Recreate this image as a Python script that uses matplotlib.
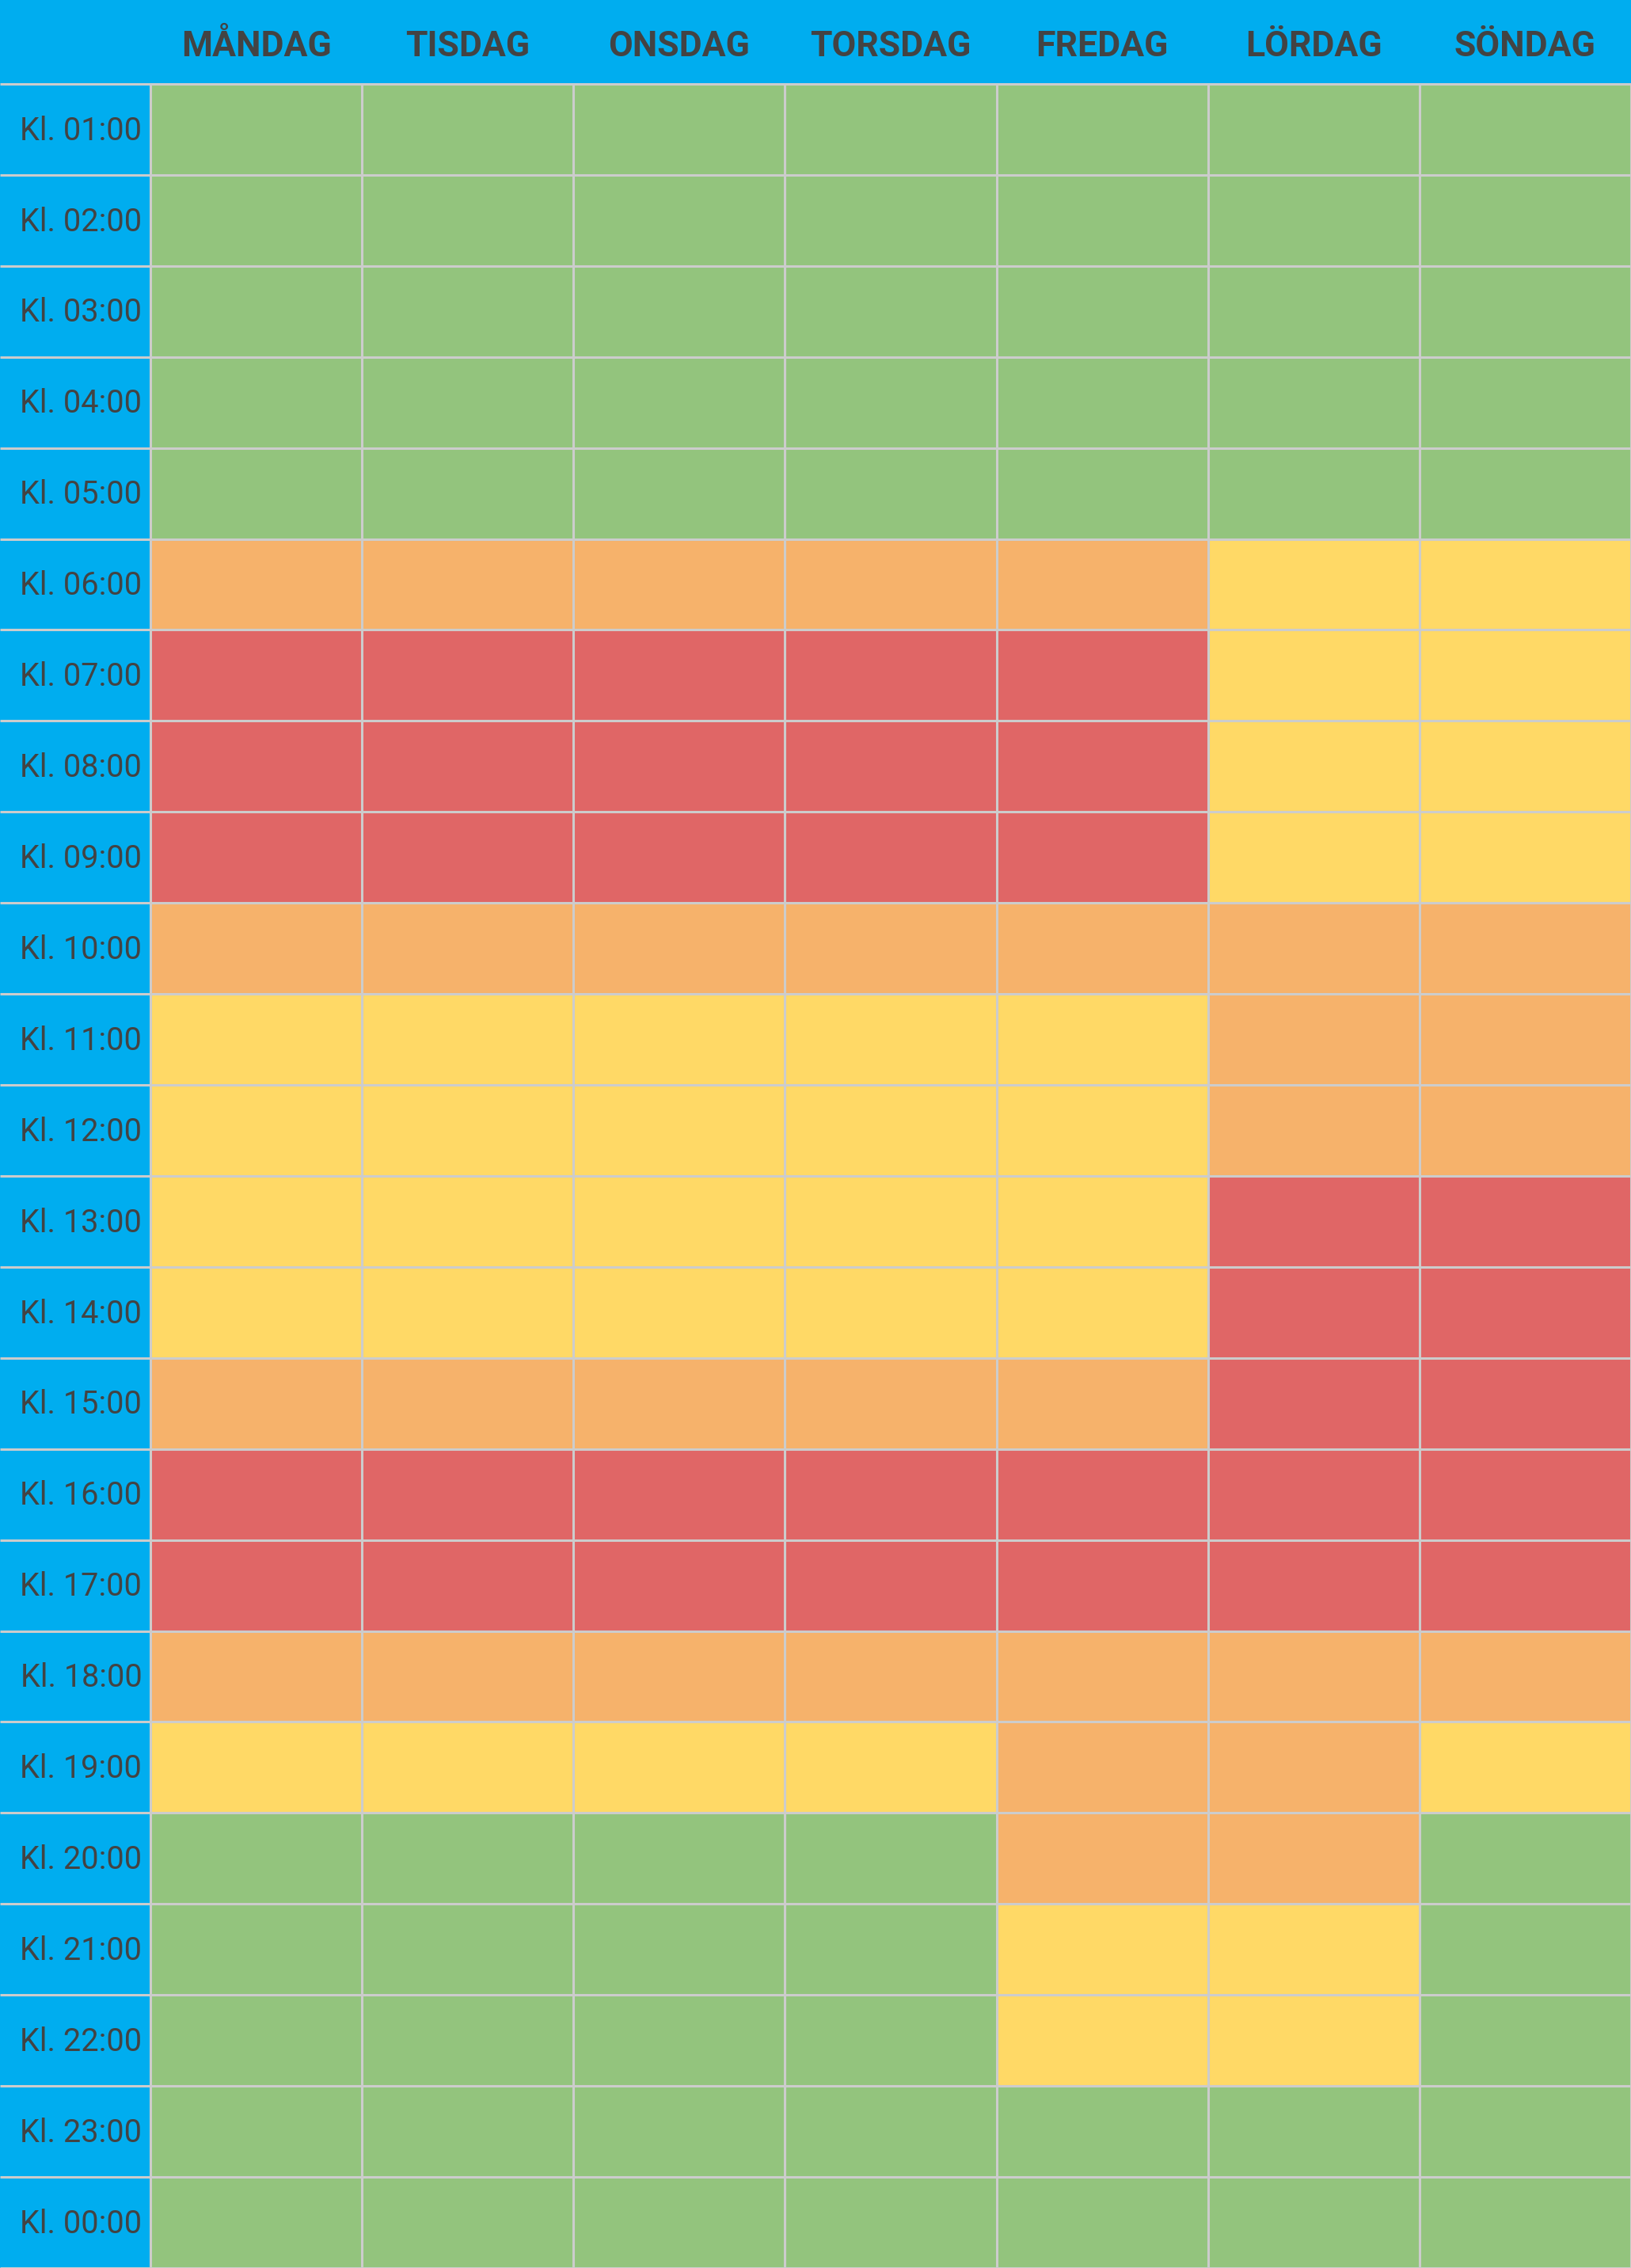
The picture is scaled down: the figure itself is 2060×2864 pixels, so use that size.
"""Weekly traffic heat table: hour rows by weekday columns, four load levels."""

import matplotlib

matplotlib.use("Agg")
import matplotlib.pyplot as plt
import numpy as np
from matplotlib.colors import ListedColormap
from matplotlib.patches import Rectangle

days = ["MÅNDAG", "TISDAG", "ONSDAG", "TORSDAG", "FREDAG", "LÖRDAG", "SÖNDAG"]
hours = [f"Kl. {h:02d}:00" for h in list(range(1, 24)) + [0]]

# 0 = green (calm), 1 = yellow, 2 = orange, 3 = red (busiest)
levels = [
    [0, 0, 0, 0, 0, 0, 0],  # 01
    [0, 0, 0, 0, 0, 0, 0],  # 02
    [0, 0, 0, 0, 0, 0, 0],  # 03
    [0, 0, 0, 0, 0, 0, 0],  # 04
    [0, 0, 0, 0, 0, 0, 0],  # 05
    [2, 2, 2, 2, 2, 1, 1],  # 06
    [3, 3, 3, 3, 3, 1, 1],  # 07
    [3, 3, 3, 3, 3, 1, 1],  # 08
    [3, 3, 3, 3, 3, 1, 1],  # 09
    [2, 2, 2, 2, 2, 2, 2],  # 10
    [1, 1, 1, 1, 1, 2, 2],  # 11
    [1, 1, 1, 1, 1, 2, 2],  # 12
    [1, 1, 1, 1, 1, 3, 3],  # 13
    [1, 1, 1, 1, 1, 3, 3],  # 14
    [2, 2, 2, 2, 2, 3, 3],  # 15
    [3, 3, 3, 3, 3, 3, 3],  # 16
    [3, 3, 3, 3, 3, 3, 3],  # 17
    [2, 2, 2, 2, 2, 2, 2],  # 18
    [1, 1, 1, 1, 2, 2, 1],  # 19
    [0, 0, 0, 0, 2, 2, 0],  # 20
    [0, 0, 0, 0, 1, 1, 0],  # 21
    [0, 0, 0, 0, 1, 1, 0],  # 22
    [0, 0, 0, 0, 0, 0, 0],  # 23
    [0, 0, 0, 0, 0, 0, 0],  # 00
]
level_colors = ["#93c47d", "#ffd966", "#f6b26b", "#e06666"]

BLUE = "#00adef"
TEXT = "#434343"
GRID = "#cccccc"

W_PX, H_PX = 2060, 2864
LABEL_W = 0.711   # label column width, in day-column units
HEADER_H = 0.922  # header height, in hour-row units


def main():
    plt.rcParams["font.family"] = ["Roboto", "DejaVu Sans"]
    data = np.array(levels)
    n_rows, n_cols = data.shape

    fig = plt.figure(figsize=(W_PX / 100, H_PX / 100), dpi=100)
    ax = fig.add_axes([0, 0, 1, 1])
    ax.set_xlim(-LABEL_W, n_cols)
    ax.set_ylim(n_rows, -HEADER_H)
    ax.axis("off")

    # header band and hour label column
    ax.add_patch(Rectangle((-LABEL_W, -HEADER_H), n_cols + LABEL_W, HEADER_H,
                           color=BLUE, lw=0))
    ax.add_patch(Rectangle((-LABEL_W, 0), LABEL_W, n_rows, color=BLUE, lw=0))

    ax.pcolormesh(np.arange(n_cols + 1), np.arange(n_rows + 1), data,
                  cmap=ListedColormap(level_colors), vmin=-0.5, vmax=3.5,
                  shading="flat")

    ax.hlines(np.arange(n_rows + 1), -LABEL_W, n_cols, color=GRID, lw=2.2)
    ax.vlines(np.arange(n_cols + 1), 0, n_rows, color=GRID, lw=2.2)

    for j, day in enumerate(days):
        ax.text(j + 0.5, -HEADER_H / 2 + 0.05, day, ha="center", va="center",
                fontsize=32, fontweight="bold", color=TEXT)
    for i, hour in enumerate(hours):
        ax.text(-0.04, i + 0.515, hour, ha="right", va="center",
                fontsize=28.5, color=TEXT)

    fig.savefig("out.png", dpi=100)


if __name__ == "__main__":
    main()
